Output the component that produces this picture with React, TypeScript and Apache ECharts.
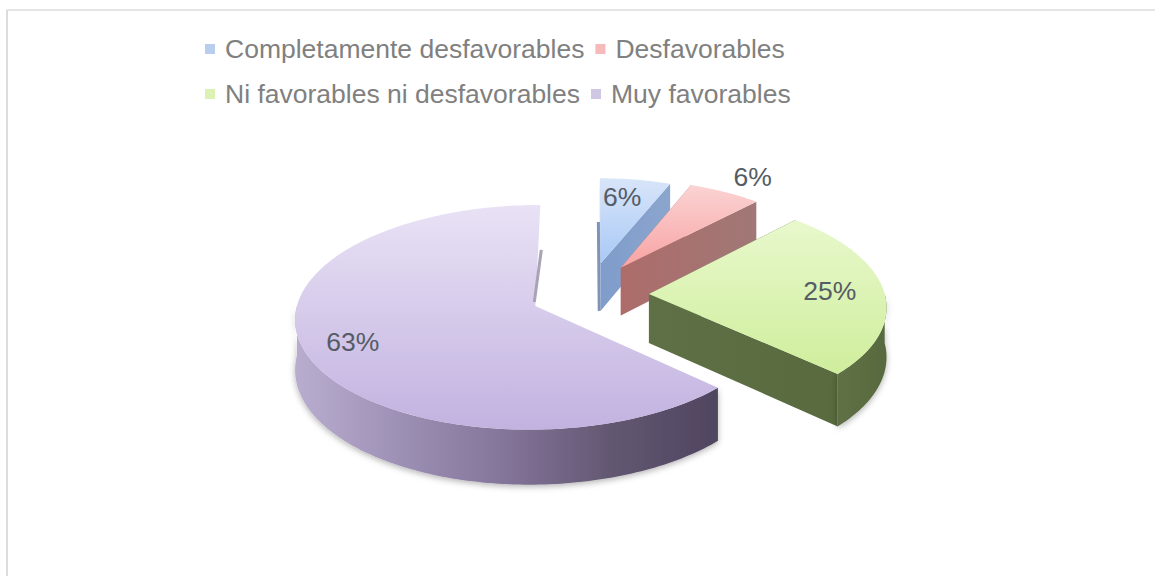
import React, { useEffect, useRef } from "react";
import * as echarts from "echarts";

// Survey answers and their shares, in percent, clockwise from twelve o'clock.
const categories = [
  "Completamente desfavorables",
  "Desfavorables",
  "Ni favorables ni desfavorables",
  "Muy favorables",
];
const shares = [6, 6, 25, 63];

const legendColors = ["#b9cdee", "#f7b9b9", "#dcf2b4", "#cfc7e4"];
const topColors = [
  ["#d8e5f9", "#a9c9f6"],
  ["#fbd3d3", "#f8a3a3"],
  ["#e8f8cc", "#cfee9c"],
  ["#e9e2f5", "#c2b2e0"],
];
const wallColors = [
  ["#7f9ccb", "#8ba6cd"],
  ["#ad6c6a", "#a07876"],
  ["#5f7046", "#586a3e"],
  ["#b9adcf", "#4f4560"],
];

// Back slices sit further from the viewer and read a little smaller.
const sliceReach = [0.9, 0.93, 1, 1];
const labelReach = [0.7, 1.13, 0.77, 0.8];
const labelNudge = [-6, 7, 0, 0];

// Projection of the tilted pie onto the page: ground-plane unit coordinates to pixels.
const CX = 590;
const CY = 295;
const RX = 236;
const RY = 109;
const PERSPECTIVE = 0.1;
const EXPLODE = 0.25;
const BACK_LIFT = 1.22;
const DEPTH = 49;
const FONT = "'Liberation Sans', Arial, sans-serif";
const TOTAL = shares.reduce((a, b) => a + b, 0);

const project = (gx: number, gy: number, drop = 0): number[] => {
  const scale = 1 / (1 - PERSPECTIVE * gy);
  return [CX + RX * gx * scale, CY + RY * gy * scale + drop * scale];
};

const onRim = (angle: number, ox: number, oy: number, reach: number, drop = 0) =>
  project(ox + reach * Math.sin(angle), oy - reach * Math.cos(angle), drop);

const sweep = (from: number, to: number): number[] => {
  const steps = Math.max(2, Math.ceil((to - from) / 0.02));
  return Array.from({ length: steps + 1 }, (_, i) => from + ((to - from) * i) / steps);
};

const gradient = (horizontal: boolean, stops: string[]) =>
  new echarts.graphic.LinearGradient(
    0,
    0,
    horizontal ? 1 : 0,
    horizontal ? 0 : 1,
    stops.map((color, i) => ({ offset: i / (stops.length - 1), color })),
  );

const rimStops = (index: number) =>
  index === 3
    ? ["#b9adcf", "#9d90b5", "#837499", "#625771", "#4f4560"]
    : wallColors[index];

const sliceRenderer = (index: number) => (_params: unknown, api: any) => {
  const value = api.value(0);
  const before = shares.slice(0, index).reduce((a, b) => a + b, 0);
  const start = (before / TOTAL) * Math.PI * 2;
  const end = ((before + value) / TOTAL) * Math.PI * 2;
  const middle = (start + end) / 2;
  const lift = Math.cos(middle) > 0 ? BACK_LIFT : 1;
  const ox = EXPLODE * Math.sin(middle);
  const oy = -EXPLODE * Math.cos(middle) * lift;
  const reach = sliceReach[index];
  const wall = wallColors[index];
  const children: any[] = [];

  // Cut faces, later covered by the slice's own top where they turn away.
  // The large slice's faces never show as filled areas, so they are left out.
  if (index !== 3) {
    [start, end].forEach((angle) =>
      children.push({
        type: "polygon",
        shape: {
          points: [
            project(ox, oy),
            onRim(angle, ox, oy, reach),
            onRim(angle, ox, oy, reach, DEPTH),
            project(ox, oy, DEPTH),
          ],
        },
        style: { fill: gradient(true, [wall[0], wall[1]]) },
      }),
    );
  }

  // The first slice shows a sliver of its vertical cut along the left side.
  if (index === 0) {
    const far = onRim(start, ox, oy, reach, DEPTH);
    const near = project(ox, oy, DEPTH);
    children.push({
      type: "line",
      shape: { x1: far[0] - 1.5, y1: far[1], x2: near[0] - 1.5, y2: near[1] },
      style: { stroke: "#7f93b8", lineWidth: 3 },
    });
  }

  // Outer rim, only where it turns towards the viewer.
  const rimFrom = Math.max(start, Math.PI / 2);
  const rimTo = Math.min(end, (Math.PI * 3) / 2);
  if (rimTo > rimFrom) {
    const angles = sweep(rimFrom, rimTo);
    children.push({
      type: "polygon",
      shape: {
        points: [
          ...angles.map((a) => onRim(a, ox, oy, reach)),
          ...angles.slice().reverse().map((a) => onRim(a, ox, oy, reach, DEPTH)),
        ],
      },
      style: {
        fill: gradient(true, rimStops(index)),
        shadowBlur: 6,
        shadowColor: "rgba(0,0,0,0.3)",
        shadowOffsetY: 2,
      },
    });
  }

  children.push({
    type: "polygon",
    shape: {
      points: [project(ox, oy), ...sweep(start, end).map((a) => onRim(a, ox, oy, reach))],
    },
    style: { fill: gradient(false, topColors[index]) },
  });

  // The last slice's closing cut shows as a thin grey sliver above its centre.
  if (index === 3) {
    const far = onRim(end, ox, oy, reach, DEPTH);
    const near = project(ox, oy);
    children.push({
      type: "line",
      shape: { x1: far[0] + 1, y1: far[1], x2: near[0] - 1, y2: near[1] - 4 },
      style: { stroke: "#a9a3b5", lineWidth: 3 },
    });
  }

  const [lx, ly] = onRim(middle, ox, oy, labelReach[index]);
  children.push({
    type: "text",
    x: lx + labelNudge[index],
    y: ly,
    style: {
      text: `${value}%`,
      fill: "#555c66",
      font: `26.5px ${FONT}`,
      textAlign: "center",
      textVerticalAlign: "middle",
    },
  });

  return { type: "group", children };
};

export default function App() {
  const ref = useRef<HTMLDivElement>(null);

  useEffect(() => {
    const chart = echarts.init(ref.current!, null, { renderer: "svg" });
    chart.setOption({
      animation: false,
      backgroundColor: "#ffffff",
      legend: {
        left: 200,
        top: 27,
        width: 680,
        itemWidth: 10,
        itemHeight: 10,
        itemGap: 11,
        icon: "rect",
        selectedMode: false,
        data: categories,
        textStyle: {
          color: "#808080",
          fontSize: 26.5,
          lineHeight: 34,
          padding: [0, 0, 0, 5],
          fontFamily: FONT,
        },
      },
      graphic: [
        {
          type: "line",
          silent: true,
          shape: { x1: 7, y1: 10, x2: 1155, y2: 10 },
          style: { stroke: "#dcdcdc", lineWidth: 1.5 },
        },
        {
          type: "line",
          silent: true,
          shape: { x1: 7, y1: 10, x2: 7, y2: 576 },
          style: { stroke: "#dcdcdc", lineWidth: 2 },
        },
      ],
      series: categories.map((name, i) => ({
        type: "custom",
        name,
        coordinateSystem: "none",
        silent: true,
        itemStyle: { color: legendColors[i] },
        renderItem: sliceRenderer(i),
        data: [[shares[i]]],
      })),
    });
    return () => chart.dispose();
  }, []);

  return <div ref={ref} style={{ position: "fixed", left: 0, top: 0, width: 1155, height: 576 }} />;
}
